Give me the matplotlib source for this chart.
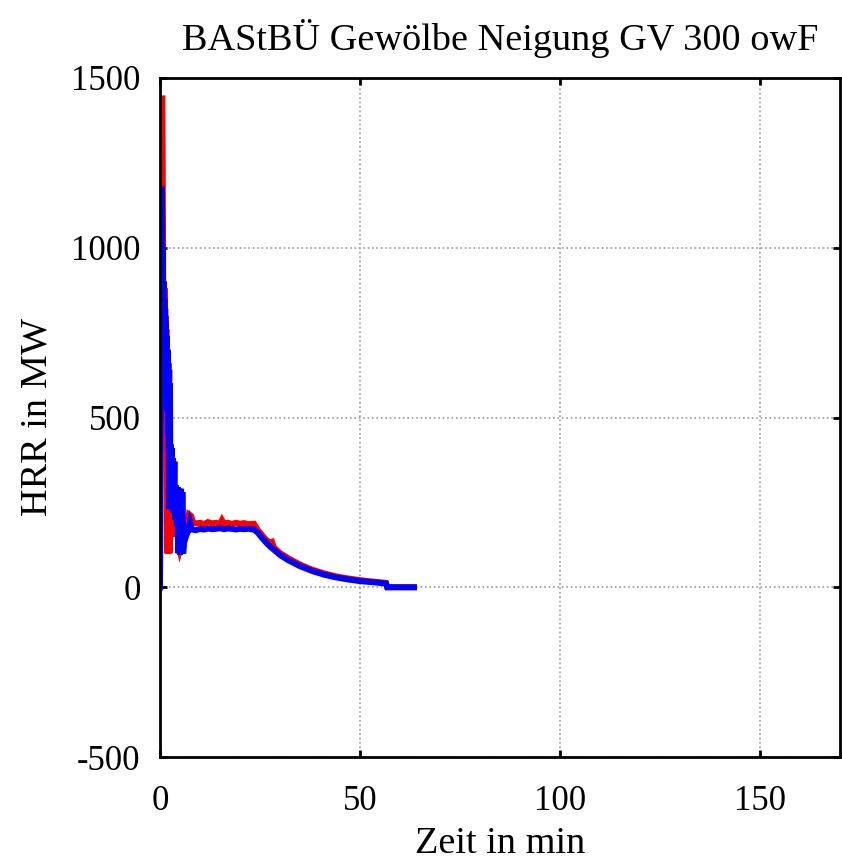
import matplotlib
matplotlib.use('Agg')
import matplotlib.pyplot as plt

# Zeit in min / HRR in MW (red = first run, blue = second)
t_red = [0.0, 0.3, 0.5, 0.6, 0.7, 0.8, 0.9, 1.0, 1.1, 1.2, 1.3, 1.4, 1.5, 1.6, 1.7,
         1.8, 1.9, 2.0, 2.2, 2.4, 2.6, 2.8, 3.0, 3.2, 3.4, 3.6, 4.0, 4.4, 5.0, 5.5,
         6.5, 7.2, 7.8, 8.3, 9.0, 10.0, 11.0, 12.0, 13.0, 14.0, 15.0, 15.5, 16.0,
         17.0, 18.0, 19.0, 20.0, 21.0, 22.0, 23.5, 24.5, 25.5, 26.5, 27.5, 28.0,
         28.5, 30.0, 32.0, 35.0, 38.0, 41.0, 44.0, 47.0, 50.0, 53.0, 56.5, 56.8, 63.5]
hrr_red = [0, 900, 1440, 1440, 1200, 880, 600, 900, 620, 880, 550, 800, 520, 760, 510,
           100, 240, 100, 240, 100, 235, 160, 230, 150, 220, 150, 200, 150, 110, 130,
           170, 215, 210, 190, 188, 190, 186, 192, 188, 190, 186, 198, 188, 190, 186,
           190, 187, 189, 186, 187, 168, 154, 140, 132, 134, 117, 101, 86, 67, 52, 41,
           32, 26, 21, 17, 13, 0, 0]

t_blue = [0.0, 0.3, 0.5, 0.6, 0.7, 0.8, 0.9, 1.0, 1.1, 1.2, 1.3, 1.4, 1.5, 1.6, 1.7,
          1.8, 1.9, 2.0, 2.1, 2.2, 2.3, 2.4, 2.5, 2.6, 2.7, 2.8, 2.9, 3.0, 3.2, 3.4,
          3.6, 3.8, 4.0, 4.2, 4.4, 4.6, 4.8, 5.0, 5.2, 5.4, 5.6, 5.8, 6.0, 6.5, 7.0,
          7.5, 8.0, 9.0, 10.0, 11.0, 12.0, 13.0, 14.0, 15.0, 16.0, 17.0, 18.0, 19.0,
          20.0, 21.0, 22.0, 23.5, 24.5, 25.5, 26.5, 27.5, 28.5, 30.0, 32.0, 35.0, 38.0,
          41.0, 44.0, 47.0, 50.0, 53.0, 56.5, 56.8, 63.5]
hrr_blue = [0, 800, 1180, 950, 1000, 700, 900, 650, 850, 620, 820, 600, 780, 560, 740,
            520, 700, 450, 660, 400, 640, 230, 600, 260, 420, 240, 410, 230, 380, 220,
            370, 200, 300, 180, 295, 100, 290, 95, 290, 100, 280, 100, 130, 150, 165,
            192, 170, 168, 172, 170, 173, 171, 172, 174, 171, 173, 172, 170, 172, 171,
            172, 170, 160, 145, 132, 120, 110, 95, 80, 62, 48, 37, 29, 23, 18, 15, 11,
            0, 0]

x_ticks = [0, 50, 100, 150]
y_ticks = [-500, 0, 500, 1000, 1500]

plt.rcParams['font.family'] = ['Liberation Serif', 'DejaVu Serif']
plt.rcParams['axes.unicode_minus'] = False

fig = plt.figure(figsize=(8.42, 8.6), dpi=100)
ax = fig.add_axes([160 / 842, 1 - 757 / 860, 680 / 842, 679 / 860])

ax.plot(t_red, hrr_red, color='red', lw=4.3, solid_joinstyle='miter')
ax.plot(t_blue, hrr_blue, color='blue', lw=4.3, solid_joinstyle='miter')

ax.set_xlim(0, 170)
ax.set_ylim(-500, 1500)
ax.set_xticks(x_ticks)
ax.set_yticks(y_ticks)
ax.grid(True, color='#999999', linestyle=':', lw=1.2)
ax.tick_params(direction='in', top=True, right=True, length=5, width=2, labelsize=25)
ax.tick_params(axis='x', pad=20)
ax.tick_params(axis='y', pad=14)
for s in ax.spines.values():
    s.set_linewidth(2)

ax.set_title('BAStBÜ Gewölbe Neigung GV 300 owF', fontsize=27.5, pad=20)
ax.set_xlabel('Zeit in min', fontsize=27.5, labelpad=6)
ax.set_ylabel('HRR in MW', fontsize=27.5, labelpad=12)

fig.savefig('out.png', dpi=100)
